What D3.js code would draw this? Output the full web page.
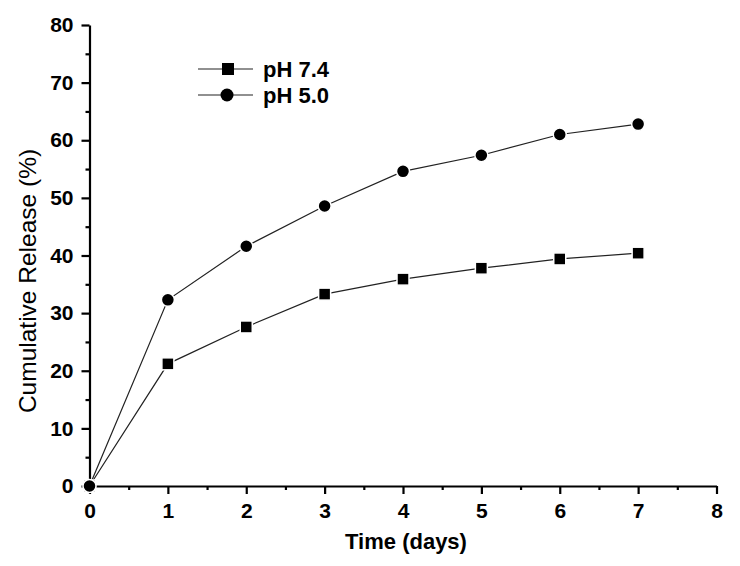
<!DOCTYPE html>
<html><head><meta charset="utf-8">
<script src="https://cdn.jsdelivr.net/npm/d3@7"></script>
<style>body{margin:0;background:#fff}svg{display:block}</style>
</head><body>
<svg id="c" width="740" height="566"></svg>
<script>
const days = [0,1,2,3,4,5,6,7];
const ph74 = [0,21.2,27.6,33.3,35.9,37.8,39.4,40.4];
const ph50 = [0,32.3,41.6,48.6,54.6,57.4,61.0,62.8];
const xTicks = [0,1,2,3,4,5,6,7,8];
const yTicks = [0,10,20,30,40,50,60,70,80];
const seriesNames = ["pH 7.4","pH 5.0"];

const svg = d3.select("#c");
const x = d3.scaleLinear().domain([0,8]).range([89.5,716.5]);
const y = d3.scaleLinear().domain([0,80]).range([486,25]);
const font = "'Liberation Sans', Arial, sans-serif";

// X axis
const xa = svg.append("g").attr("transform","translate(0,486)")
  .call(d3.axisBottom(x).tickValues(xTicks).tickFormat(d3.format("d")).tickSize(8).tickSizeOuter(0));
xa.select(".domain").attr("stroke","#000").attr("stroke-width",2.2);
xa.selectAll(".tick line").attr("stroke","#000").attr("stroke-width",2.2);
xa.selectAll(".tick text").attr("font-family",font).attr("font-weight","bold").attr("font-size",21).attr("fill","#000").attr("y",12).attr("dy","0.95em");
svg.append("g").attr("transform","translate(0,486)")
  .call(d3.axisBottom(x).tickValues(d3.range(0.5,8,1)).tickFormat("").tickSize(4).tickSizeOuter(0))
  .call(g=>{g.select(".domain").remove();g.selectAll("line").attr("stroke","#000").attr("stroke-width",2.2);});

// Y axis
const ya = svg.append("g").attr("transform","translate(89.5,0)")
  .call(d3.axisLeft(y).tickValues(yTicks).tickFormat(d3.format("d")).tickSize(8).tickSizeOuter(0));
ya.select(".domain").attr("stroke","#000").attr("stroke-width",2.2);
ya.selectAll(".tick line").attr("stroke","#000").attr("stroke-width",2.2);
ya.selectAll(".tick text").attr("font-family",font).attr("font-weight","bold").attr("font-size",21).attr("fill","#000").attr("x",-16);
svg.append("g").attr("transform","translate(89.5,0)")
  .call(d3.axisLeft(y).tickValues(d3.range(5,80,10)).tickFormat("").tickSize(4).tickSizeOuter(0))
  .call(g=>{g.select(".domain").remove();g.selectAll("line").attr("stroke","#000").attr("stroke-width",2.2);});

// Axis titles
svg.append("text").attr("x",406).attr("y",549).attr("text-anchor","middle")
  .attr("font-family",font).attr("font-weight","bold").attr("font-size",22).text("Time (days)");
svg.append("text").attr("transform","translate(36,281) rotate(-90)").attr("text-anchor","middle")
  .attr("font-family",font).attr("font-size",24.5).text("Cumulative Release (%)");

// Lines
const line = d3.line().x((d,i)=>x(days[i])).y(d=>y(d));
[ph74, ph50].forEach(s=>{
  svg.append("path").datum(s).attr("d",line).attr("fill","none").attr("stroke","#222").attr("stroke-width",1.2);
});
// Markers
svg.append("g").selectAll("rect").data(ph74).join("rect")
  .attr("x",(d,i)=>x(days[i])-6).attr("y",d=>y(d)-6).attr("width",12).attr("height",12)
  .attr("fill","#000").attr("stroke","#fff").attr("stroke-width",1.5);
svg.append("g").selectAll("circle").data(ph50).join("circle")
  .attr("cx",(d,i)=>x(days[i])).attr("cy",d=>y(d)).attr("r",6.5)
  .attr("fill","#000").attr("stroke","#fff").attr("stroke-width",1.5);

// Legend
const lg = svg.append("g");
[[69,"rect"],[95,"circle"]].forEach(([ly,shape],k)=>{
  lg.append("line").attr("x1",198).attr("x2",253).attr("y1",ly).attr("y2",ly).attr("stroke","#222").attr("stroke-width",1.2);
  if(shape==="rect") lg.append("rect").attr("x",222).attr("y",ly-6).attr("width",12).attr("height",12).attr("fill","#000");
  else lg.append("circle").attr("cx",227).attr("cy",ly).attr("r",6.5).attr("fill","#000");
  lg.append("text").attr("x",263).attr("y",ly+8).attr("font-family",font).attr("font-weight","bold").attr("font-size",22).text(seriesNames[k]);
});
</script>
</body></html>
